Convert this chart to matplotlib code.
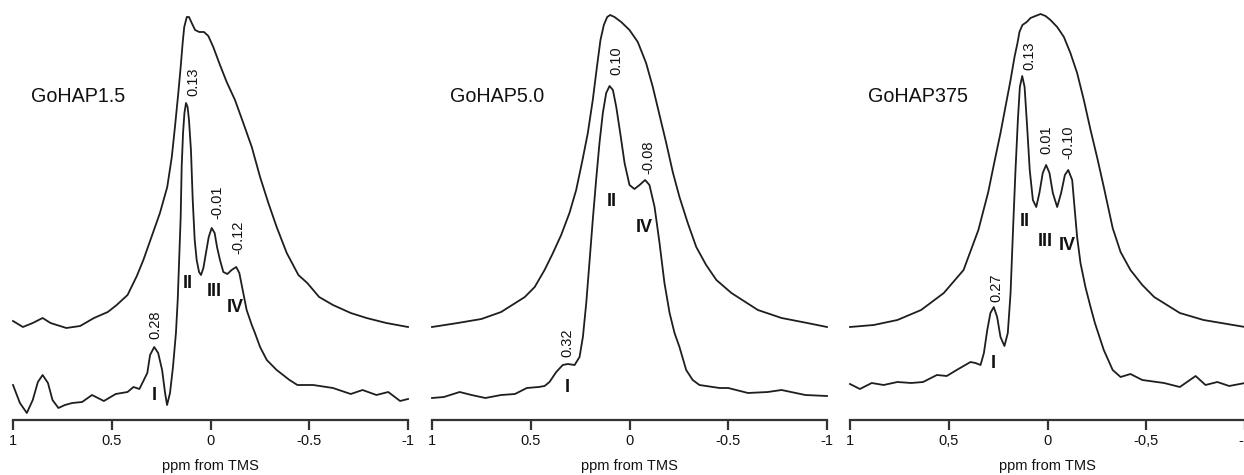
import matplotlib
matplotlib.use("Agg")
import matplotlib.pyplot as plt

plt.rcParams['font.family'] = ['Liberation Sans', 'DejaVu Sans']

# ---------------- data (ppm, intensity in arbitrary units) ----------------
p1_upper_ppm = [1.0, 0.95, 0.90, 0.85, 0.81, 0.73, 0.66, 0.59, 0.52, 0.475, 0.42, 0.373, 0.34, 0.306,
                0.256, 0.219, 0.196, 0.18, 0.163, 0.151, 0.141, 0.133, 0.12, 0.109, 0.095, 0.078,
                0.057, 0.033, 0.011, -0.014, -0.048, -0.082, -0.124, -0.166, -0.209, -0.251, -0.293,
                -0.335, -0.386, -0.445, -0.49, -0.55, -0.62, -0.71, -0.79, -0.89, -1.0]
p1_upper_int = [99, 93, 97, 102, 97, 92, 94, 102, 108, 115, 125, 144, 160, 179,
                207, 233, 263, 293, 327, 353, 377, 393, 403, 403, 397, 390,
                388, 388, 384, 373, 355, 338, 320, 297, 273, 243, 217,
                193, 167, 145, 137, 123, 115, 107, 102, 97, 93]
p1_lower_ppm = [1.0, 0.965, 0.93, 0.90, 0.874, 0.85, 0.823, 0.80, 0.77, 0.737, 0.70, 0.65, 0.60, 0.54,
                0.48, 0.42, 0.39, 0.36, 0.32, 0.306, 0.285, 0.265, 0.245, 0.23, 0.22, 0.205, 0.19,
                0.175, 0.166, 0.16, 0.151, 0.146, 0.139, 0.132, 0.124, 0.116, 0.109, 0.099, 0.09,
                0.08, 0.07, 0.058, 0.048, 0.036, 0.023, 0.009, -0.006, -0.021, -0.033, -0.048,
                -0.065, -0.085, -0.107, -0.13, -0.146, -0.163, -0.183, -0.209, -0.225, -0.251,
                -0.285, -0.335, -0.40, -0.44, -0.52, -0.62, -0.71, -0.77, -0.84, -0.90, -0.96, -1.0]
p1_lower_int = [35, 17, 7, 20, 38, 45, 37, 20, 12, 15, 17, 18, 25, 19,
                26, 28, 33, 31, 47, 65, 73, 67, 50, 27, 15, 27, 53,
                87, 120, 153, 203, 253, 287, 307, 317, 313, 300, 270, 220,
                180, 160, 148, 145, 152, 167, 183, 192, 187, 173, 160,
                148, 146, 150, 153, 147, 130, 110, 95, 87, 73,
                60, 50, 40, 35, 35, 32, 26, 30, 25, 28, 19, 21]

p2_upper_ppm = [1.0, 0.87, 0.75, 0.65, 0.53, 0.48, 0.43, 0.39, 0.346, 0.304, 0.27, 0.238, 0.211,
                0.186, 0.165, 0.147, 0.13, 0.113, 0.098, 0.076, 0.042, 0.0, -0.042, -0.084, -0.118,
                -0.152, -0.186, -0.219, -0.253, -0.295, -0.338, -0.388, -0.44, -0.516, -0.65, -0.77,
                -0.9, -1.0]
p2_upper_int = [93, 97, 101, 108, 123, 133, 150, 166, 185, 207, 230, 260, 287,
                320, 353, 380, 395, 403, 405, 403, 398, 390, 378, 357, 333,
                305, 277, 248, 223, 197, 173, 155, 140, 127, 110, 102,
                97, 93]
p2_lower_ppm = [1.0, 0.94, 0.86, 0.80, 0.73, 0.65, 0.58, 0.52, 0.46, 0.43, 0.405, 0.371, 0.338, 0.312,
                0.278, 0.253, 0.236, 0.219, 0.203, 0.186, 0.169, 0.152, 0.135, 0.118, 0.101, 0.084,
                0.067, 0.047, 0.025, 0.0, -0.025, -0.051, -0.079, -0.101, -0.127, -0.152, -0.177,
                -0.203, -0.228, -0.253, -0.287, -0.32, -0.354, -0.456, -0.50, -0.60, -0.70, -0.77,
                -0.89, -1.0]
p2_lower_int = [22, 23, 28, 25, 22, 25, 26, 32, 33, 34, 38, 48, 55, 56,
                55, 63, 83, 117, 157, 200, 240, 277, 307, 327, 334, 330,
                313, 287, 257, 235, 231, 235, 240, 235, 213, 177, 137,
                107, 87, 73, 50, 40, 35, 32, 32, 27, 28, 30,
                25, 24]

p3_upper_ppm = [1.0, 0.88, 0.76, 0.64, 0.525, 0.425, 0.35, 0.30, 0.272, 0.238, 0.213, 0.187, 0.167,
                0.152, 0.142, 0.127, 0.105, 0.086, 0.061, 0.035, 0.01, -0.015, -0.049, -0.083,
                -0.116, -0.15, -0.184, -0.218, -0.252, -0.285, -0.33, -0.37, -0.42, -0.48, -0.54,
                -0.67, -0.79, -1.0]
p3_upper_int = [93, 95, 100, 110, 127, 150, 190, 228, 255, 287, 313, 340, 363,
                377, 388, 395, 398, 402, 404, 406, 404, 400, 393, 383,
                367, 347, 320, 290, 262, 233, 192, 168, 150, 135, 123,
                107, 100, 93]
p3_lower_ppm = [1.0, 0.95, 0.89, 0.83, 0.76, 0.69, 0.63, 0.56, 0.51, 0.46, 0.39, 0.365, 0.339, 0.322,
                0.305, 0.289, 0.272, 0.255, 0.238, 0.218, 0.201, 0.187, 0.174, 0.162, 0.15, 0.14,
                0.128, 0.116, 0.103, 0.09, 0.074, 0.057, 0.041, 0.024, 0.007, -0.01, -0.027, -0.049,
                -0.069, -0.088, -0.105, -0.125, -0.138, -0.15, -0.167, -0.192, -0.218, -0.24, -0.285,
                -0.33, -0.37, -0.42, -0.48, -0.59, -0.67, -0.75, -0.80, -0.86, -0.92, -1.0]
p3_lower_int = [36, 31, 37, 35, 38, 37, 38, 45, 44, 50, 58, 57, 55, 67,
                90, 107, 113, 103, 83, 74, 87, 127, 193, 250, 300, 333,
                344, 333, 293, 250, 220, 213, 227, 247, 255, 247, 227, 213,
                227, 245, 250, 240, 210, 183, 157, 133, 113, 97, 70,
                50, 43, 46, 40, 37, 33, 44, 35, 38, 34, 37]

titles = ["GoHAP1.5", "GoHAP5.0", "GoHAP375"]
tick_values = [1, 0.5, 0, -0.5, -1]
tick_labels = [["1", "0.5", "0", "-0.5", "-1"],
               ["1", "0.5", "0", "-0.5", "-1"],
               ["1", "0,5", "0", "-0,5", "-1"]]

# shift labels (text, ppm, intensity)
p1_shift_labels = [("0.13", 0.085, 338), ("-0.01", -0.033, 218), ("-0.12", -0.140, 183), ("0.28", 0.280, 95)]
p2_shift_labels = [("0.10", 0.066, 359), ("-0.08", -0.096, 263), ("0.32", 0.315, 77)]
p3_shift_labels = [("0.13", 0.091, 364), ("0.01", 0.005, 280), ("-0.10", -0.106, 278), ("0.27", 0.259, 132)]

# roman numeral labels (text, ppm, intensity)
p1_roman = [("I", 0.286, 25), ("II", 0.114, 137), ("III", -0.018, 128), ("IV", -0.124, 113)]
p2_roman = [("I", 0.314, 32), ("II", 0.091, 218), ("IV", -0.076, 192)]
p3_roman = [("I", 0.274, 57), ("II", 0.116, 198), ("III", 0.010, 178), ("IV", -0.101, 175)]

panels = [
    (p1_upper_ppm, p1_upper_int, p1_lower_ppm, p1_lower_int, p1_shift_labels, p1_roman),
    (p2_upper_ppm, p2_upper_int, p2_lower_ppm, p2_lower_int, p2_shift_labels, p2_roman),
    (p3_upper_ppm, p3_upper_int, p3_lower_ppm, p3_lower_int, p3_shift_labels, p3_roman),
]

# ---------------- layout ----------------
W, H = 1244, 475
fig = plt.figure(figsize=(W / 100, H / 100), dpi=100)
lefts_px = [13, 432, 850]
width_px = 395
axis_y_px = 420

line_color = '#1e1e1e'
for i, (uppm, uint, lppm, lint, slabels, roman) in enumerate(panels):
    ax = fig.add_axes([lefts_px[i] / W, (H - axis_y_px) / H, width_px / W, axis_y_px / H])
    ax.patch.set_alpha(0)
    ax.plot(uppm, uint, color=line_color, lw=1.3, clip_on=False, solid_joinstyle='round')
    ax.plot(lppm, lint, color=line_color, lw=1.3, clip_on=False, solid_joinstyle='round')
    ax.set_xlim(1, -1)
    ax.set_ylim(0, axis_y_px)
    for s in ['left', 'right', 'top']:
        ax.spines[s].set_visible(False)
    ax.spines['bottom'].set_linewidth(1.6)
    ax.spines['bottom'].set_color('#333333')
    ax.set_yticks([])
    ax.set_xticks(tick_values)
    ax.set_xticklabels(tick_labels[i])
    ax.tick_params(axis='x', direction='out', length=7, width=1.6, color='#333333',
                   labelsize=10.5, pad=3, labelcolor='#111111')
    ax.set_xlabel("ppm from TMS", fontsize=10.5, labelpad=8, color='#111111')
    ax.text(0.911, 324, titles[i], fontsize=14.2, ha='left', va='center', color='#111111')
    for txt, x, y in slabels:
        ax.text(x, y, txt, rotation=90, fontsize=10.5, ha='center', va='center', color='#111111')
    for txt, x, y in roman:
        ax.text(x, y, txt, fontsize=13, fontweight='bold', ha='center', va='center', color='#111111')

fig.savefig("out.png", dpi=100)
